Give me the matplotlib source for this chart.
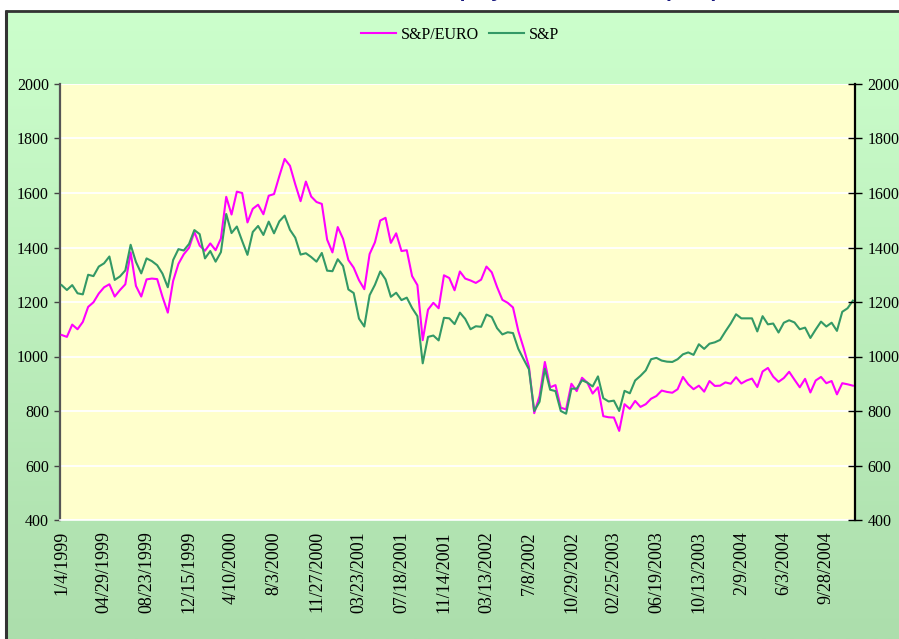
import numpy as np
import matplotlib
matplotlib.use("Agg")
import matplotlib.pyplot as plt

# ---------------- data (sampled every 10 trading days from 1/4/1999) ----------------
step = 10
tick_every = 80
tick_labels = ["1/4/1999", "04/29/1999", "08/23/1999", "12/15/1999", "4/10/2000",
               "8/3/2000", "11/27/2000", "03/23/2001", "07/18/2001", "11/14/2001",
               "03/13/2002", "7/8/2002", "10/29/2002", "02/25/2003", "06/19/2003",
               "10/13/2003", "2/9/2004", "6/3/2004", "9/28/2004"]

sp = [1262, 1244, 1262, 1232, 1228, 1300, 1295, 1330,
      1342, 1367, 1281, 1294, 1316, 1410, 1347, 1305,
      1360, 1350, 1335, 1304, 1254, 1354, 1394, 1389,
      1413, 1464, 1449, 1360, 1387, 1348, 1383, 1523,
      1453, 1477, 1424, 1373, 1457, 1479, 1446, 1495,
      1452, 1496, 1517, 1465, 1436, 1374, 1379, 1365,
      1348, 1380, 1315, 1313, 1357, 1332, 1246, 1233,
      1139, 1110, 1225, 1263, 1312, 1283, 1219, 1234,
      1207, 1216, 1178, 1148, 975, 1072, 1077, 1059,
      1142, 1140, 1119, 1161, 1138, 1100, 1111, 1109,
      1154, 1145, 1104, 1081, 1089, 1086, 1028, 990,
      953, 800, 834, 955, 878, 873, 800, 790,
      882, 882, 913, 904, 890, 927, 847, 835,
      838, 800, 874, 865, 912, 929, 949, 990,
      995, 985, 981, 980, 990, 1008, 1015, 1006,
      1045, 1028, 1047, 1052, 1061, 1092, 1121, 1155,
      1140, 1140, 1140, 1092, 1148, 1118, 1121, 1088,
      1124, 1133, 1125, 1100, 1106, 1068, 1099, 1128,
      1110, 1124, 1094, 1164, 1177, 1205]

sp_euro = [1079, 1072, 1117, 1100, 1127, 1182, 1199, 1231,
           1254, 1265, 1220, 1244, 1265, 1382, 1259, 1220,
           1283, 1286, 1284, 1219, 1161, 1277, 1340, 1375,
           1399, 1457, 1407, 1388, 1415, 1390, 1433, 1586,
           1521, 1605, 1600, 1492, 1542, 1557, 1522, 1590,
           1596, 1662, 1725, 1700, 1632, 1570, 1642, 1587,
           1567, 1560, 1429, 1382, 1475, 1432, 1354, 1326,
           1280, 1247, 1376, 1419, 1499, 1509, 1417, 1452,
           1387, 1390, 1295, 1262, 1060, 1172, 1197, 1177,
           1298, 1288, 1243, 1312, 1286, 1279, 1270, 1282,
           1330, 1309, 1255, 1208, 1197, 1180, 1094, 1031,
           963, 792, 855, 980, 887, 895, 812, 806,
           900, 873, 922, 904, 864, 887, 781, 777,
           776, 727, 825, 808, 837, 815, 825, 845,
           855, 875, 870, 867, 880, 925, 898, 880,
           893, 871, 910, 892, 893, 905, 900, 924,
           901, 912, 919, 888, 945, 958, 926, 907,
           921, 944, 915, 887, 918, 868, 912, 925,
           902, 910, 861, 902, 898, 893]

# ---------------- figure ----------------
W, H = 899, 639
fig = plt.figure(figsize=(W / 100, H / 100), dpi=100)
fig.patch.set_facecolor("white")

bg = fig.add_axes([0, 0, 1, 1])
bg.set_xlim(0, W)
bg.set_ylim(H, 0)
bg.axis("off")
top = np.array([204, 255, 204]) / 255.0
bot = np.array([172, 222, 172]) / 255.0
t = np.linspace(0, 1, 256)[:, None]
grad = (top * (1 - t) + bot * t)[:, None, :]
bg.imshow(grad, extent=[6, W, H, 10], aspect="auto", zorder=0, interpolation="bilinear")
bg.plot([6, 6], [10, H], color="#333333", lw=2.2, solid_capstyle="butt", zorder=1)
bg.plot([5, W], [10.5, 10.5], color="#333333", lw=2.0, solid_capstyle="butt", zorder=1)
bg.set_xlim(0, W)
bg.set_ylim(H, 0)

# title sits above the visible area, only its lowest strokes show (as in the reference)
fig.text(0.66, 1 + 3.0 / H, "US Equity, Dollar vs. Euro perspective", ha="center",
         va="baseline", fontsize=15, fontweight="bold", color="#1a1a80",
         family="Liberation Sans")

# main plot area
L, R, T, B = 60, 855, 84, 520
ax = fig.add_axes([L / W, (H - B) / H, (R - L) / W, (B - T) / H])
ax.set_facecolor("#FFFFCC")
x = np.arange(len(sp)) * step
l1, = ax.plot(x, sp_euro, color="#FF00FF", lw=1.5, label="S&P/EURO", zorder=3)
l2, = ax.plot(x, sp, color="#339966", lw=1.5, label="S&P", zorder=4)

ax.set_xlim(-3, 1494)
ax.set_ylim(400, 2000)
yt = list(range(400, 2001, 200))
ax.set_yticks(yt)
ax.grid(axis="y", color="white", lw=1.3)
ax.grid(axis="x", visible=False)
ax.set_axisbelow(True)

ax.set_xticks(np.arange(len(tick_labels)) * tick_every)
ax.set_xticklabels(tick_labels, rotation=90, family="Liberation Serif", fontsize=13)
ax.tick_params(axis="x", length=0, pad=8)
ax.tick_params(axis="y", direction="out", length=4, width=1, color="#444444", pad=4,
               labelsize=11.5)
for lab in ax.get_yticklabels():
    lab.set_family("Liberation Serif")

ax.spines["top"].set_visible(False)
ax.spines["right"].set_visible(False)
ax.spines["bottom"].set_color("white")
ax.spines["bottom"].set_linewidth(1.2)
ax.spines["left"].set_color("#555555")
ax.spines["left"].set_linewidth(1.6)

ax2 = ax.twinx()
ax2.set_ylim(400, 2000)
ax2.set_yticks(yt)
ax2.tick_params(axis="y", direction="inout", length=10, width=1, color="black", pad=4,
                labelsize=11.5)
for lab in ax2.get_yticklabels():
    lab.set_family("Liberation Serif")
for s in ["top", "left", "bottom"]:
    ax2.spines[s].set_visible(False)
ax2.spines["right"].set_color("black")
ax2.spines["right"].set_linewidth(1.6)

fig.legend(handles=[l1, l2], loc="center", bbox_to_anchor=(460 / W, 1 - 35 / H), ncol=2,
           frameon=False, prop={"family": "Liberation Serif", "size": 11.5},
           handlelength=2.2, handletextpad=0.3, columnspacing=0.6)

fig.savefig("out.png", dpi=100, facecolor="white")
